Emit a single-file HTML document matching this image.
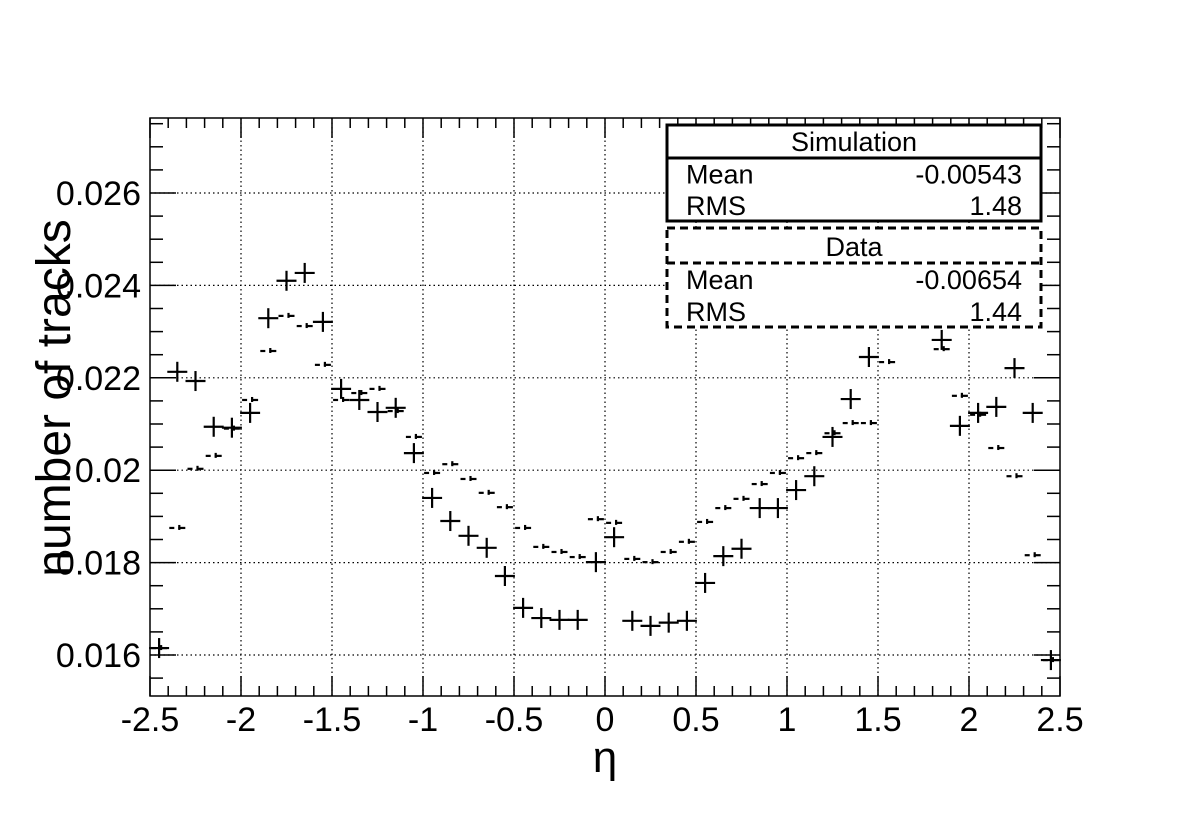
<!DOCTYPE html>
<html><head><meta charset="utf-8"><style>
html,body{margin:0;padding:0;background:#fff;}
svg{display:block;font-family:"Liberation Sans",Arial,sans-serif;}
</style></head><body>
<svg id="chart" width="1196" height="822" viewBox="0 0 1196 822"></svg>
<script>
const etaCenters = [-2.45,-2.35,-2.25,-2.15,-2.05,-1.95,-1.85,-1.75,-1.65,-1.55,-1.45,-1.35,-1.25,-1.15,-1.05,-0.95,-0.85,-0.75,-0.65,-0.55,-0.45,-0.35,-0.25,-0.15,-0.05,0.05,0.15,0.25,0.35,0.45,0.55,0.65,0.75,0.85,0.95,1.05,1.15,1.25,1.35,1.45,1.55,1.65,1.75,1.85,1.95,2.05,2.15,2.25,2.35,2.45];
const dataValues = [0.01615,0.02213,0.02193,0.02094,0.02092,0.02124,0.02329,0.02410,0.02427,0.02321,0.02176,0.02152,0.02126,0.02135,0.02037,0.01940,0.01890,0.01858,0.01832,0.01771,0.01702,0.01680,0.01676,0.01676,0.01801,0.01855,0.01674,0.01663,0.01670,0.01674,0.01756,0.01814,0.01830,0.01918,0.01918,0.01957,0.01987,0.02072,0.02154,0.02245,0.02350,0.02380,0.02360,0.02282,0.02096,0.02124,0.02137,0.02221,0.02124,0.01589];
const simValues = [0.01615,0.01875,0.02003,0.02031,0.02090,0.02152,0.02258,0.02334,0.02312,0.02228,0.02152,0.02167,0.02176,0.02128,0.02072,0.01994,0.02013,0.01981,0.01951,0.01920,0.01875,0.01834,0.01823,0.01812,0.01894,0.01886,0.01808,0.01801,0.01823,0.01845,0.01888,0.01918,0.01938,0.01970,0.01994,0.02026,0.02037,0.02080,0.02102,0.02102,0.02234,0.02350,0.02360,0.02262,0.02161,0.02120,0.02048,0.01987,0.01816,0.01589];
const yTicks = [0.016,0.018,0.020,0.022,0.024,0.026];
const yTickLabels = ["0.016","0.018","0.02","0.022","0.024","0.026"];
const xTicks = [-2.5,-2,-1.5,-1,-0.5,0,0.5,1,1.5,2,2.5];
const xTickLabels = ["-2.5","-2","-1.5","-1","-0.5","0","0.5","1","1.5","2","2.5"];

const L=150,R=1060,T=118,B=696;
const X=v=>L+(v+2.5)*(R-L)/5;
const Y=v=>193+(0.026-v)*46200;
const svg=document.getElementById('chart');
const NS='http://www.w3.org/2000/svg';
function mk(tag,attrs,parent){const e=document.createElementNS(NS,tag);for(const k in attrs)e.setAttribute(k,attrs[k]);(parent||svg).appendChild(e);return e;}

const grid=mk('g',{});


xTicks.forEach(t=>{if(t>-2.5&&t<2.5)mk('line',{x1:X(t),x2:X(t),y1:T,y2:B,stroke:'#000','stroke-width':1.2,'stroke-dasharray':'1.5,3'},grid);});
yTicks.forEach(t=>mk('line',{x1:L,x2:R,y1:Y(t),y2:Y(t),stroke:'#000','stroke-width':1.2,'stroke-dasharray':'1.5,3'},grid));

const frame=mk('rect',{x:L,y:T,width:R-L,height:B-T,fill:'none',stroke:'#000','stroke-width':1.5});



const ticks=mk('g',{stroke:'#000','stroke-width':1.5});


for(let i=0;i<=50;i++){const v=-2.5+i*0.1;const len=(i%5===0)?20:10;
 mk('line',{x1:X(v),x2:X(v),y1:B,y2:B-len},ticks);
 mk('line',{x1:X(v),x2:X(v),y1:T,y2:T+len},ticks);}
for(let v=0.0155;v<=0.0276;v+=0.0005){const y=Y(v);if(y<T||y>B)continue;
 const major=Math.abs(v*1000-Math.round(v*1000))<1e-6&&Math.round(v*1000)%2===0;const len=major?26:13;
 mk('line',{x1:L,x2:L+len,y1:y,y2:y},ticks);
 mk('line',{x1:R,x2:R-len,y1:y,y2:y},ticks);}

yTicks.forEach((t,i)=>{const e=mk('text',{x:141,y:Y(t)+12,'text-anchor':'end','font-size':34});e.textContent=yTickLabels[i];
 
 });
xTicks.forEach((t,i)=>{const e=mk('text',{x:X(t),y:731,'text-anchor':'middle','font-size':34});e.textContent=xTickLabels[i];
 
 });

const simG=mk('g',{stroke:'#000','stroke-width':2.2});


etaCenters.forEach((c,i)=>{const x=X(c),y=Y(simValues[i]);
 const s=mk('g',{},simG);
 
 
 mk('line',{x1:x-8,x2:x-3,y1:y,y2:y},s);
 mk('line',{x1:x+1,x2:x+8,y1:y,y2:y},s);
 mk('line',{x1:x+2,x2:x+2,y1:y-3,y2:y+2},s);});

const dataG=mk('g',{stroke:'#000','stroke-width':2.2});


etaCenters.forEach((c,i)=>{const x=X(c),y=Y(dataValues[i]);
 const s=mk('g',{},dataG);
 
 
 mk('line',{x1:x-10,x2:x+10,y1:y,y2:y},s);
 mk('line',{x1:x,x2:x,y1:y-10,y2:y+10},s);});

function box(y0,y1,ydiv,dashed,title,mean,rms,name){
 const g=mk('g',{});
 
 
 const st=dashed?{'stroke-dasharray':'8,5'}:{};
 mk('rect',Object.assign({x:667,y:y0,width:374,height:y1-y0,fill:'#fff',stroke:'#000','stroke-width':3},st),g);
 mk('line',Object.assign({x1:667,x2:1041,y1:ydiv,y2:ydiv,stroke:'#000','stroke-width':3},st),g);
 const t=mk('text',{x:854,y:ydiv-7,'text-anchor':'middle','font-size':27},g);t.textContent=title;
 const rowH=(y1-ydiv)/2;
 [['Mean',mean],['RMS',rms]].forEach((r,k)=>{const yy=ydiv+rowH*(k+1)-6;
  const a=mk('text',{x:686,y:yy,'font-size':27},g);a.textContent=r[0];
  const b=mk('text',{x:1022,y:yy,'text-anchor':'end','font-size':27},g);b.textContent=r[1];});
}
box(125,221,158,false,'Simulation','-0.00543','1.48','simulation-stats-box');
box(228,327,263,true,'Data','-0.00654','1.44','data-stats-box');

const xt=mk('text',{x:605,y:772,'text-anchor':'middle','font-size':44});xt.textContent='η';


const yt=mk('text',{x:0,y:0,'text-anchor':'middle','font-size':48,transform:'translate(70,398) rotate(-90)'});yt.textContent='number of tracks';


</script>
</body></html>
